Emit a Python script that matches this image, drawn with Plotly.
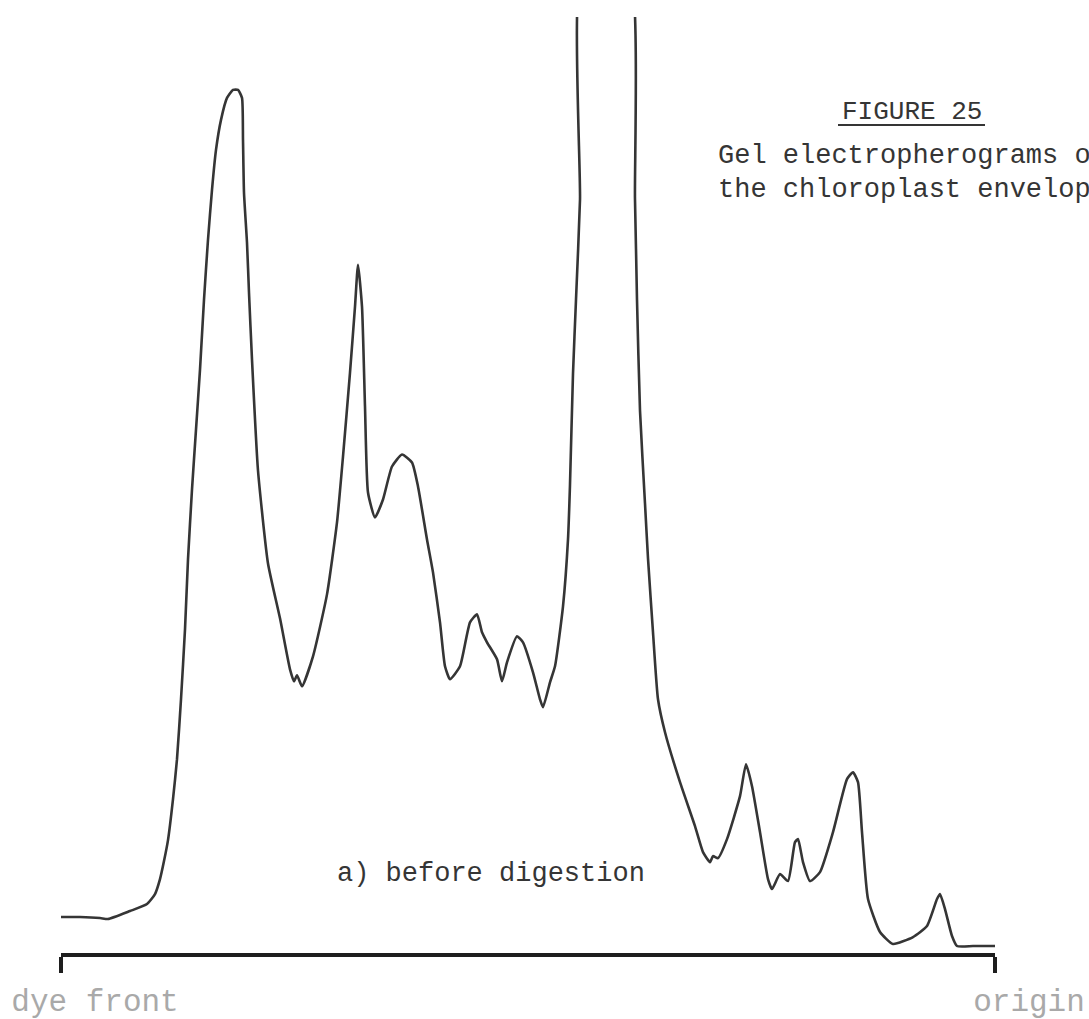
import plotly.graph_objects as go

# Densitometer scan of the gel: migration distance (chart units, dye front = 0)
migration = [
    0, 19, 39, 47, 69, 86, 94, 99,
    103, 107, 112, 116, 120, 124, 127, 131, 135, 139, 143, 147, 151, 155,
    160, 166, 172, 177, 181, 182, 183, 186, 188, 191,
    197, 207, 219, 229, 233, 236, 241, 252, 266, 276, 282, 289, 294, 297,
    301, 304, 307, 314, 322, 331, 341, 351, 357, 366, 372, 379, 384, 389,
    399, 409, 416, 421, 426, 436, 441, 446, 456, 462, 472, 479, 482, 489,
    494, 502, 507, 509, 512, 515, 519, 522, 567, 574, 576, 579, 584, 587,
    592, 597, 604, 619, 634, 642, 649, 652, 657, 666, 679, 685, 691, 699,
    707, 711, 719, 727, 734, 737, 742, 749, 759, 772, 786, 792, 797, 801,
    807, 819, 832, 852, 866, 876, 879, 884, 891, 896, 912, 934,
]

# Recorder deflection (absorbance, chart units); the main band runs off scale
absorbance = [
    36, 36, 35, 34, 42, 49, 59, 74,
    92, 113, 154, 194, 254, 324, 394, 464, 524, 584, 654, 714, 764, 804,
    834, 856, 864, 864, 856, 814, 761, 711, 661, 594,
    483, 390, 335, 284, 272, 278, 267, 297, 359, 431, 497, 581, 647, 689,
    647, 547, 461, 436, 454, 487, 499, 491, 467, 414, 381, 331, 287, 274,
    287, 331, 339, 321, 311, 294, 272, 291, 317, 311, 281, 254, 246, 271,
    287, 347, 414, 469, 580, 654, 754, 994, 994, 754, 654, 543, 450, 395,
    321, 254, 221, 171, 127, 101, 91, 97, 95, 114, 157, 189, 167, 121,
    74, 64, 79, 72, 111, 114, 91, 72, 81, 121, 174, 181, 171, 121,
    54, 21, 9, 16, 27, 54, 59, 44, 17, 7, 7, 7,
]

gel_ends = [0, 934]
gel_end_labels = ["dye front", "origin"]

TYPE_FONT = "Liberation Mono, DejaVu Sans Mono, monospace"
INK = "#353535"

fig = go.Figure()
fig.add_trace(
    go.Scatter(
        x=migration,
        y=absorbance,
        mode="lines",
        line=dict(color=INK, width=2.6, shape="spline", smoothing=0.5),
        hoverinfo="skip",
        showlegend=False,
    )
)

fig.update_layout(
    width=1089,
    height=1019,
    margin=dict(l=61, r=94, t=17, b=66, autoexpand=False),
    paper_bgcolor="white",
    plot_bgcolor="white",
    showlegend=False,
    xaxis=dict(
        range=[0, 934],
        showgrid=False,
        zeroline=False,
        showline=True,
        linecolor="#1e1e1e",
        linewidth=3.5,
        ticks="outside",
        ticklen=16,
        tickwidth=3.5,
        tickcolor="#1e1e1e",
        tickvals=gel_ends,
        ticktext=gel_end_labels,
        ticklabelshift=34,
        ticklabelstandoff=1,
        tickfont=dict(family="Liberation Mono, Courier New, monospace",
                      size=31, color="#a9a9a9"),
        fixedrange=True,
    ),
    yaxis=dict(
        range=[0, 937],
        visible=False,
        fixedrange=True,
    ),
)

# Typed captions
fig.add_annotation(x=779, y=842, xref="x", yref="y", text="FIGURE 25",
                   showarrow=False, xanchor="left", yanchor="middle",
                   font=dict(family=TYPE_FONT, size=26, color=INK))
fig.add_shape(type="line", xref="x", yref="y", x0=777, x1=924, y0=829, y1=829,
              line=dict(color=INK, width=2))
fig.add_annotation(x=655, y=798, xref="x", yref="y",
                   text="Gel electropherograms of",
                   showarrow=False, xanchor="left", yanchor="middle",
                   font=dict(family=TYPE_FONT, size=27, color=INK))
fig.add_annotation(x=655, y=764, xref="x", yref="y",
                   text="the chloroplast envelope",
                   showarrow=False, xanchor="left", yanchor="middle",
                   font=dict(family=TYPE_FONT, size=27, color=INK))
fig.add_annotation(x=274, y=79, xref="x", yref="y",
                   text="a) before digestion",
                   showarrow=False, xanchor="left", yanchor="middle",
                   font=dict(family=TYPE_FONT, size=27, color=INK))

fig.write_html("out.html")
